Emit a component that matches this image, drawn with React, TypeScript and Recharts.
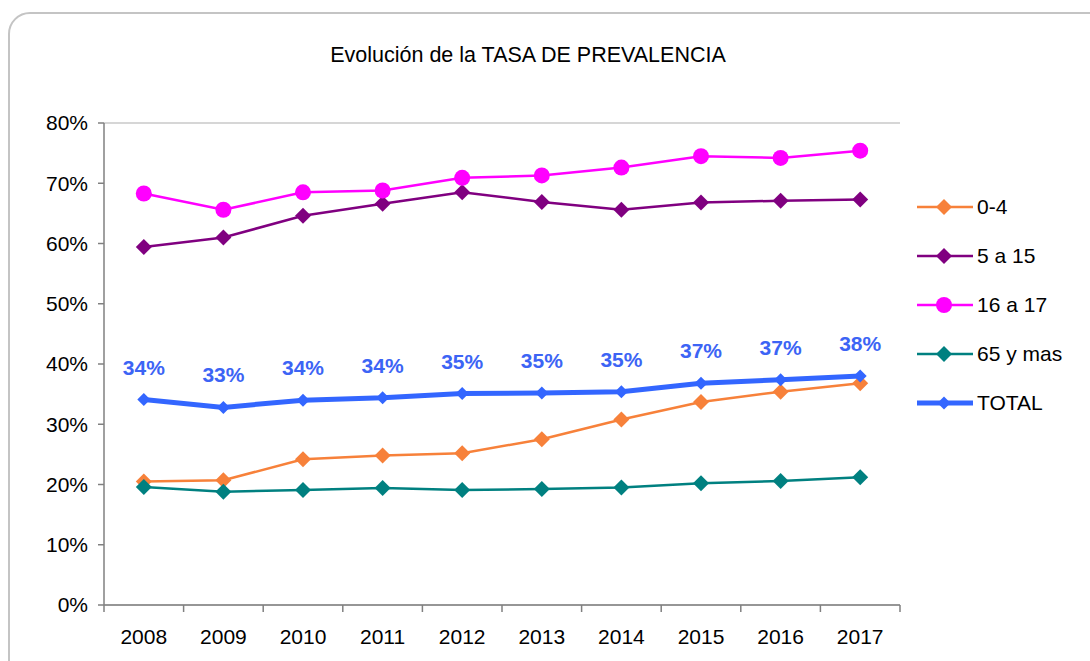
import { CartesianGrid, Legend, LabelList, Line, LineChart, XAxis, YAxis } from 'recharts';

const years = ['2008', '2009', '2010', '2011', '2012', '2013', '2014', '2015', '2016', '2017'];
const age0to4 = [20.5, 20.7, 24.2, 24.8, 25.2, 27.5, 30.8, 33.7, 35.4, 36.8];
const age5to15 = [59.4, 61.0, 64.6, 66.6, 68.5, 66.9, 65.6, 66.8, 67.1, 67.3];
const age16to17 = [68.3, 65.6, 68.5, 68.8, 70.9, 71.3, 72.6, 74.5, 74.2, 75.4];
const age65plus = [19.6, 18.8, 19.1, 19.4, 19.1, 19.25, 19.5, 20.2, 20.6, 21.2];
const total = [34.1, 32.8, 34.0, 34.4, 35.1, 35.2, 35.4, 36.8, 37.4, 38.0];
const yTicks = [0, 10, 20, 30, 40, 50, 60, 70, 80];

const data = years.map((year, i) => ({
	year,
	a: age0to4[i],
	b: age5to15[i],
	c: age16to17[i],
	d: age65plus[i],
	total: total[i]
}));

const FONT = '"Liberation Sans", Arial, sans-serif';
const PLOT_LEFT = 104;
const PLOT_RIGHT = 900;
const BAND = (PLOT_RIGHT - PLOT_LEFT) / years.length;

const series = [
	{ key: 'a', name: '0-4', color: '#f7813a', width: 2.5, shape: 'diamond', r: 8 },
	{ key: 'b', name: '5 a 15', color: '#800080', width: 2.5, shape: 'diamond', r: 8 },
	{ key: 'c', name: '16 a 17', color: '#ff00ff', width: 2.5, shape: 'circle', r: 8 },
	{ key: 'd', name: '65 y mas', color: '#008080', width: 2.5, shape: 'diamond', r: 8 },
	{ key: 'total', name: 'TOTAL', color: '#3366ff', width: 5, shape: 'diamond', r: 6.5 }
];

function marker(shape: string, color: string, r: number, cx: number, cy: number, key?: any) {
	if (shape === 'circle') return <circle key={key} cx={cx} cy={cy} r={r} fill={color} />;
	return <path key={key} d={`M${cx},${cy - r}L${cx + r},${cy}L${cx},${cy + r}L${cx - r},${cy}Z`} fill={color} />;
}

const makeDot = (shape: string, color: string, r: number) => (p: any) => {
	if (p.cx == null || p.cy == null) return <g key={p.key ?? p.index} />;
	return marker(shape, color, r, p.cx, p.cy, p.key ?? `dot-${p.index}`);
};

const XTick = (props: any) => {
	const { x, y, payload, index } = props;
	return (
		<g>
			<line x1={x - BAND / 2} x2={x - BAND / 2} y1={y} y2={y + 7} stroke="#808080" strokeWidth={1.5} />
			{index === years.length - 1 && <line x1={x + BAND / 2} x2={x + BAND / 2} y1={y} y2={y + 7} stroke="#808080" strokeWidth={1.5} />}
			<text x={x} y={y + 38.5} textAnchor="middle" fontSize={21} fontFamily={FONT} fill="#000">
				{payload.value}
			</text>
		</g>
	);
};

const TotalLabel = (props: any) => {
	const { x, y, value } = props;
	return (
		<text x={x} y={y - 25} textAnchor="middle" fontSize={21} fontWeight="bold" fontFamily={FONT} fill="#3c64f5">
			{`${Math.round(value)}%`}
		</text>
	);
};

const LegendBox = () => (
	<div style={{ fontFamily: FONT, fontSize: 21, color: '#000' }}>
		{series.map((s) => (
			<div key={s.key} style={{ display: 'flex', alignItems: 'center', height: 49 }}>
				<svg width={56} height={20} style={{ display: 'block' }}>
					<line x1={0} x2={56} y1={10} y2={10} stroke={s.color} strokeWidth={s.width} />
					{marker(s.shape, s.color, s.r, 27, 10)}
				</svg>
				<span style={{ marginLeft: 4, lineHeight: '21px' }}>{s.name}</span>
			</div>
		))}
	</div>
);

export default function App() {
	return (
		<div style={{ position: 'fixed', left: 0, top: 0, width: 1090, height: 661, overflow: 'hidden', background: '#fff', fontFamily: FONT }}>
			<div
				style={{
					position: 'absolute',
					left: 8,
					top: 12,
					width: 1110,
					height: 690,
					border: '2px solid #c4c4c4',
					borderRadius: 22,
					boxSizing: 'border-box'
				}}
			/>
			<div style={{ position: 'absolute', left: 0, top: 45, width: 1056, textAlign: 'center', fontSize: 21.5, lineHeight: '21px', color: '#000' }}>
				Evolución de la TASA DE PREVALENCIA
			</div>
			<div style={{ position: 'absolute', left: 0, top: 0 }}>
				<LineChart width={1090} height={661} data={data} margin={{ top: 123, right: 190, bottom: 26, left: 44 }}>
					<CartesianGrid vertical={false} stroke="#c8c8c8" strokeWidth={1.5} />
					<XAxis dataKey="year" scale="band" axisLine={{ stroke: '#808080', strokeWidth: 1.5 }} tickLine={false} tickSize={0} tickMargin={0} height={30} interval={0} tick={<XTick />} />
					<YAxis
						yAxisId="l"
						width={60}
						domain={[0, 80]}
						ticks={yTicks}
						interval={0}
						tickFormatter={(v) => `${v}%`}
						axisLine={{ stroke: '#808080', strokeWidth: 1.5 }}
						tickLine={{ stroke: '#808080', strokeWidth: 1.5 }}
						tickSize={6}
						tickMargin={10}
						tick={{ fontSize: 21, fill: '#000', fontFamily: FONT }}
					/>
					<YAxis yAxisId="r" orientation="right" width={0} domain={[0, 80]} tick={false} tickLine={false} axisLine={{ stroke: '#d4d4d4', strokeWidth: 1.5 }} />
					{series.map((s) => (
						<Line
							key={s.key}
							yAxisId="l"
							type="linear"
							dataKey={s.key}
							name={s.name}
							stroke={s.color}
							strokeWidth={s.width}
							dot={makeDot(s.shape, s.color, s.r)}
							activeDot={false}
							isAnimationActive={false}
						>
							{s.key === 'total' && <LabelList dataKey="total" content={<TotalLabel />} />}
						</Line>
					))}
					<Legend layout="horizontal" verticalAlign="middle" align="center" content={<LegendBox />} wrapperStyle={{ left: 917, top: 182, width: 170 }} />
				</LineChart>
			</div>
		</div>
	);
}
